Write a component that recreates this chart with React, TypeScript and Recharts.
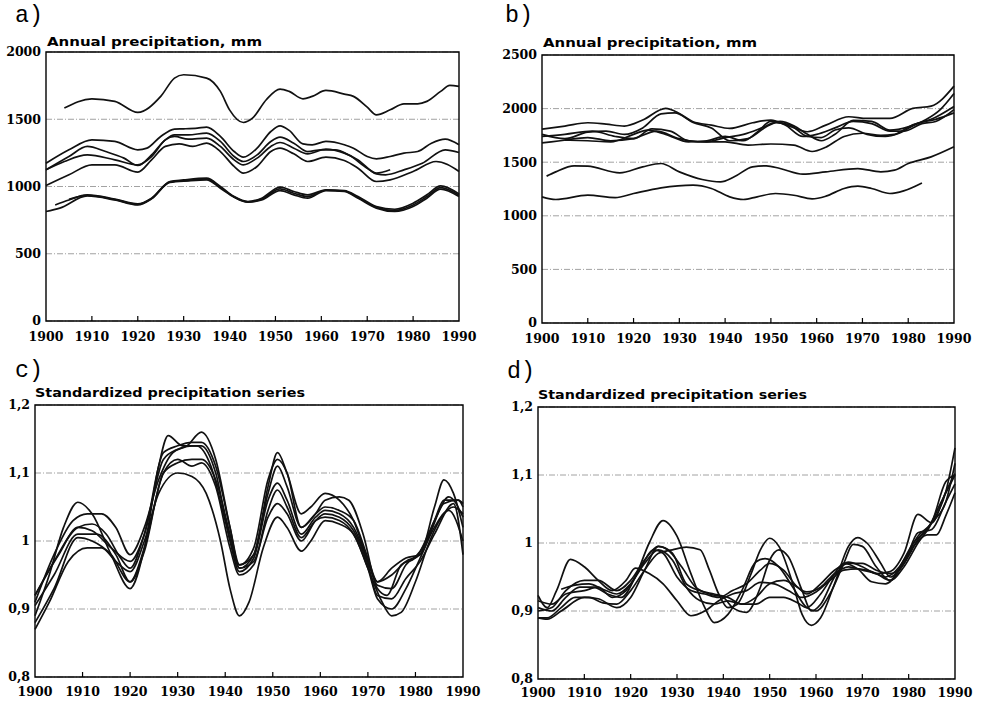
import React from "react";
import { LineChart, Line, XAxis, YAxis, CartesianGrid, ReferenceArea } from "recharts";

// decade ticks shared by every panel
const yearTicks = [1900, 1910, 1920, 1930, 1940, 1950, 1960, 1970, 1980, 1990];
const mmTicksA = [0, 500, 1000, 1500, 2000];
const mmTicksB = [0, 500, 1000, 1500, 2000, 2500];
const stdTicks = [0.8, 0.9, 1.0, 1.1, 1.2];

// a) annual precipitation, mm — [year, value]
const aTop = [[1904, 1583], [1910, 1652], [1915, 1633], [1920, 1551], [1925, 1670], [1928, 1806], [1930, 1831], [1935, 1806], [1938, 1707], [1940, 1570], [1943, 1476], [1945, 1508], [1948, 1645], [1951, 1724], [1953, 1707], [1956, 1652], [1958, 1670], [1961, 1714], [1965, 1687], [1967, 1670], [1970, 1590], [1972, 1533], [1975, 1570], [1978, 1615], [1981, 1615], [1983, 1633], [1986, 1707], [1988, 1752], [1990, 1744]];
const aMid1 = [[1900, 1173], [1905, 1273], [1910, 1347], [1915, 1335], [1920, 1273], [1922, 1285], [1925, 1372], [1928, 1427], [1930, 1429], [1933, 1434], [1935, 1441], [1938, 1372], [1941, 1260], [1943, 1218], [1946, 1285], [1949, 1409], [1951, 1451], [1953, 1417], [1956, 1317], [1958, 1310], [1961, 1335], [1965, 1310], [1967, 1285], [1970, 1223], [1972, 1206], [1975, 1223], [1978, 1248], [1981, 1260], [1984, 1322], [1987, 1352], [1990, 1310]];
const aMid2 = [[1900, 1124], [1905, 1223], [1909, 1298], [1913, 1260], [1917, 1211], [1920, 1156], [1923, 1235], [1926, 1347], [1928, 1384], [1931, 1384], [1935, 1397], [1938, 1335], [1941, 1223], [1943, 1186], [1946, 1235], [1949, 1335], [1951, 1367], [1954, 1322], [1957, 1260], [1960, 1273], [1963, 1273], [1966, 1235], [1970, 1136], [1972, 1099], [1975, 1124]];
const aMid3 = [[1900, 1124], [1904, 1186], [1909, 1235], [1915, 1198], [1920, 1161], [1923, 1223], [1926, 1347], [1928, 1372], [1931, 1352], [1935, 1360], [1938, 1298], [1941, 1198], [1943, 1161], [1946, 1211], [1949, 1298], [1951, 1327], [1954, 1285], [1957, 1243], [1961, 1278], [1965, 1248], [1968, 1198], [1972, 1094], [1974, 1087], [1978, 1124], [1982, 1173], [1987, 1273], [1990, 1253]];
const aMid4 = [[1900, 1007], [1905, 1087], [1910, 1161], [1915, 1161], [1920, 1107], [1923, 1198], [1926, 1298], [1929, 1317], [1932, 1298], [1935, 1322], [1938, 1260], [1941, 1149], [1943, 1099], [1946, 1149], [1949, 1260], [1951, 1285], [1954, 1243], [1957, 1186], [1961, 1218], [1965, 1193], [1968, 1136], [1972, 1037], [1975, 1049], [1980, 1112], [1985, 1186], [1990, 1112]];
const aLow1 = [[1902, 863], [1905, 900], [1909, 938], [1915, 906], [1920, 871], [1923, 913], [1927, 1037], [1930, 1049], [1935, 1062], [1938, 1000], [1941, 925], [1944, 888], [1947, 913], [1951, 995], [1954, 963], [1957, 938], [1961, 975], [1965, 970], [1968, 925], [1972, 851], [1976, 831], [1980, 876], [1983, 938], [1986, 1005], [1990, 945]];
const aLow2 = [[1900, 814], [1903, 839], [1909, 930], [1915, 900], [1920, 863], [1923, 908], [1927, 1030], [1931, 1042], [1935, 1049], [1938, 987], [1941, 920], [1944, 883], [1947, 900], [1951, 970], [1954, 938], [1957, 913], [1961, 970], [1965, 963], [1968, 913], [1972, 839], [1976, 814], [1980, 851], [1983, 913], [1986, 980], [1990, 925]];
const aLow3 = [[1905, 905], [1909, 934], [1915, 903], [1920, 867], [1923, 910], [1927, 1034], [1931, 1046], [1935, 1056], [1938, 994], [1941, 922], [1944, 885], [1947, 906], [1951, 982], [1954, 950], [1957, 925], [1961, 972], [1965, 966], [1968, 919], [1972, 845], [1976, 822], [1980, 863], [1983, 925], [1986, 992], [1990, 935]];

// b) annual precipitation, mm
const bLow = [[1900, 1177], [1903, 1152], [1910, 1192], [1916, 1170], [1920, 1208], [1926, 1261], [1933, 1286], [1937, 1255], [1941, 1177], [1944, 1152], [1947, 1177], [1951, 1208], [1955, 1192], [1959, 1158], [1962, 1183], [1966, 1255], [1969, 1276], [1972, 1255], [1976, 1208], [1979, 1233], [1983, 1307]];
const bMid = [[1901, 1370], [1903, 1410], [1907, 1466], [1910, 1463], [1917, 1401], [1922, 1457], [1926, 1488], [1930, 1410], [1935, 1339], [1939, 1317], [1942, 1364], [1946, 1457], [1949, 1466], [1952, 1441], [1957, 1388], [1962, 1410], [1969, 1441], [1974, 1410], [1977, 1426], [1980, 1488], [1985, 1550], [1990, 1644]];
const bUp1 = [[1900, 1809], [1905, 1837], [1910, 1868], [1914, 1855], [1918, 1837], [1922, 1893], [1927, 2002], [1930, 1955], [1933, 1877], [1937, 1846], [1941, 1815], [1946, 1868], [1950, 1893], [1954, 1837], [1958, 1784], [1962, 1846], [1967, 1924], [1971, 1908], [1976, 1908], [1981, 2002], [1985, 2023], [1990, 2210]];
const bUp2 = [[1900, 1760], [1905, 1720], [1910, 1780], [1914, 1790], [1918, 1760], [1922, 1820], [1926, 1950], [1929, 1960], [1933, 1870], [1937, 1820], [1941, 1700], [1945, 1720], [1949, 1830], [1952, 1880], [1955, 1840], [1958, 1760], [1961, 1700], [1964, 1760], [1968, 1890], [1972, 1880], [1976, 1800], [1980, 1830], [1984, 1900], [1987, 1990], [1990, 2140]];
const bUp3 = [[1900, 1740], [1905, 1760], [1911, 1790], [1916, 1740], [1920, 1720], [1924, 1810], [1928, 1790], [1932, 1700], [1936, 1690], [1940, 1730], [1944, 1760], [1948, 1820], [1951, 1870], [1954, 1850], [1958, 1740], [1961, 1730], [1964, 1800], [1967, 1820], [1971, 1760], [1975, 1740], [1978, 1770], [1982, 1860], [1986, 1900], [1990, 1960]];
const bUp4 = [[1900, 1680], [1904, 1700], [1910, 1730], [1915, 1700], [1920, 1720], [1925, 1790], [1930, 1720], [1934, 1690], [1940, 1690], [1945, 1660], [1950, 1670], [1955, 1660], [1959, 1600], [1962, 1640], [1966, 1740], [1970, 1770], [1974, 1750], [1977, 1760], [1981, 1850], [1985, 1900], [1990, 2020]];
const bUp5 = [[1905, 1706], [1910, 1700], [1915, 1690], [1920, 1760], [1923, 1800], [1927, 1760], [1932, 1690], [1936, 1700], [1940, 1740], [1944, 1700], [1947, 1780], [1950, 1880], [1953, 1850], [1957, 1740], [1960, 1760], [1964, 1820], [1968, 1880], [1972, 1860], [1976, 1790], [1979, 1790], [1983, 1860], [1986, 1880], [1990, 1990]];

// c) standardized series
const c1 = [[1900, 0.87], [1903, 0.91], [1907, 0.97], [1911, 0.99], [1914, 0.99], [1917, 0.97], [1920, 0.955], [1923, 1.0], [1926, 1.07], [1930, 1.1], [1933, 1.095], [1936, 1.07], [1939, 1.0], [1941, 0.93], [1943, 0.89], [1945, 0.91], [1948, 0.99], [1951, 1.035], [1953, 1.02], [1956, 0.985], [1958, 1.0], [1961, 1.03], [1964, 1.025], [1967, 1.01], [1970, 0.96], [1973, 0.91], [1975, 0.89], [1977, 0.895], [1980, 0.94], [1983, 1.0], [1986, 1.04], [1988, 1.05], [1990, 1.04]];
const c2 = [[1900, 0.89], [1903, 0.95], [1906, 1.02], [1909, 1.057], [1912, 1.04], [1916, 0.98], [1920, 0.93], [1923, 0.99], [1926, 1.11], [1928, 1.155], [1931, 1.14], [1934, 1.14], [1937, 1.11], [1940, 1.03], [1943, 0.965], [1946, 0.98], [1949, 1.08], [1951, 1.13], [1953, 1.1], [1956, 1.04], [1958, 1.05], [1961, 1.07], [1964, 1.06], [1967, 1.03], [1970, 0.97], [1972, 0.94], [1975, 0.95], [1978, 0.97], [1981, 0.98], [1984, 1.05], [1986, 1.09], [1988, 1.07], [1990, 1.02]];
const c3 = [[1900, 0.91], [1904, 0.98], [1908, 1.03], [1911, 1.04], [1914, 1.04], [1917, 1.02], [1920, 0.98], [1923, 1.02], [1926, 1.09], [1929, 1.13], [1932, 1.14], [1935, 1.16], [1938, 1.12], [1941, 1.02], [1943, 0.96], [1946, 0.98], [1949, 1.07], [1951, 1.11], [1953, 1.08], [1956, 1.02], [1959, 1.04], [1961, 1.06], [1964, 1.065], [1966, 1.06], [1969, 1.01], [1972, 0.93], [1974, 0.92], [1977, 0.965], [1980, 0.975], [1983, 1.01], [1986, 1.055], [1989, 1.06], [1990, 1.055]];
const c4 = [[1900, 0.92], [1904, 0.97], [1909, 1.02], [1912, 1.025], [1915, 1.01], [1918, 0.975], [1920, 0.96], [1923, 1.01], [1927, 1.12], [1930, 1.135], [1933, 1.14], [1935, 1.14], [1938, 1.1], [1941, 1.0], [1943, 0.955], [1946, 0.975], [1949, 1.06], [1951, 1.085], [1953, 1.06], [1956, 1.01], [1959, 1.035], [1961, 1.045], [1964, 1.04], [1967, 1.02], [1970, 0.97], [1972, 0.935], [1975, 0.93], [1978, 0.965], [1981, 0.985], [1984, 1.03], [1987, 1.065], [1990, 1.035]];
const c5 = [[1900, 0.905], [1904, 0.95], [1909, 1.01], [1913, 1.01], [1917, 0.98], [1920, 0.94], [1923, 0.99], [1927, 1.1], [1930, 1.12], [1933, 1.11], [1935, 1.115], [1938, 1.08], [1941, 0.99], [1943, 0.95], [1946, 0.965], [1949, 1.045], [1951, 1.075], [1953, 1.05], [1956, 1.005], [1959, 1.03], [1961, 1.035], [1964, 1.03], [1967, 1.01], [1970, 0.96], [1972, 0.915], [1975, 0.9], [1978, 0.93], [1981, 0.975], [1984, 1.02], [1987, 1.045], [1990, 1.0]];
const c6 = [[1900, 0.88], [1904, 0.93], [1909, 1.005], [1912, 1.0], [1916, 0.98], [1920, 0.94], [1923, 0.985], [1927, 1.1], [1930, 1.115], [1933, 1.12], [1935, 1.12], [1938, 1.09], [1941, 1.01], [1943, 0.96], [1946, 0.97], [1949, 1.035], [1951, 1.055], [1953, 1.04], [1956, 1.0], [1959, 1.03], [1961, 1.04], [1964, 1.035], [1967, 1.015], [1970, 0.965], [1972, 0.92], [1975, 0.915], [1978, 0.945], [1981, 0.97], [1984, 1.01], [1988, 1.055], [1990, 0.98]];
const c7 = [[1900, 0.92], [1905, 0.98], [1909, 1.02], [1912, 1.015], [1916, 0.99], [1920, 0.97], [1923, 1.01], [1927, 1.13], [1930, 1.14], [1933, 1.145], [1935, 1.145], [1938, 1.11], [1941, 1.02], [1943, 0.965], [1946, 0.99], [1949, 1.09], [1951, 1.12], [1953, 1.1], [1956, 1.02], [1959, 1.04], [1961, 1.05], [1964, 1.045], [1967, 1.03], [1970, 0.975], [1972, 0.94], [1975, 0.96], [1978, 0.975], [1981, 0.98], [1984, 1.03], [1986, 1.06], [1989, 1.06], [1990, 1.05]];

// d) standardized series
const d1 = [[1900, 0.923], [1902, 0.905], [1904, 0.93], [1907, 0.976], [1910, 0.965], [1913, 0.945], [1916, 0.93], [1919, 0.945], [1921, 0.963], [1924, 0.955], [1927, 0.94], [1930, 0.915], [1933, 0.893], [1936, 0.9], [1939, 0.915], [1942, 0.925], [1945, 0.93], [1948, 0.942], [1951, 0.94], [1954, 0.93], [1957, 0.92], [1960, 0.928], [1963, 0.945], [1966, 0.96], [1969, 0.962], [1972, 0.958], [1975, 0.95], [1978, 0.965], [1981, 1.0], [1984, 1.02], [1987, 1.06], [1990, 1.1]];
const d2 = [[1900, 0.905], [1903, 0.9], [1906, 0.92], [1909, 0.935], [1912, 0.935], [1915, 0.925], [1918, 0.92], [1921, 0.95], [1924, 1.0], [1927, 1.033], [1930, 1.01], [1933, 0.955], [1936, 0.905], [1938, 0.883], [1941, 0.895], [1944, 0.93], [1947, 0.972], [1949, 0.977], [1952, 0.965], [1955, 0.935], [1958, 0.905], [1960, 0.9], [1963, 0.925], [1966, 0.97], [1968, 0.998], [1970, 0.995], [1973, 0.965], [1976, 0.945], [1979, 0.975], [1982, 1.01], [1985, 1.03], [1988, 1.075], [1990, 1.14]];
const d3 = [[1900, 0.89], [1902, 0.89], [1905, 0.905], [1908, 0.92], [1911, 0.92], [1914, 0.912], [1917, 0.91], [1920, 0.93], [1923, 0.96], [1926, 0.985], [1929, 0.99], [1932, 0.994], [1935, 0.99], [1937, 0.96], [1939, 0.925], [1941, 0.905], [1943, 0.91], [1946, 0.955], [1948, 0.99], [1950, 1.007], [1952, 0.995], [1955, 0.94], [1957, 0.895], [1959, 0.879], [1961, 0.89], [1964, 0.94], [1967, 0.995], [1969, 1.008], [1971, 1.0], [1974, 0.97], [1976, 0.95], [1979, 0.97], [1982, 1.005], [1985, 1.03], [1988, 1.06], [1990, 1.117]];
const d4 = [[1900, 0.9], [1903, 0.905], [1906, 0.93], [1910, 0.945], [1913, 0.945], [1917, 0.93], [1920, 0.945], [1923, 0.975], [1926, 0.995], [1928, 0.99], [1931, 0.965], [1934, 0.935], [1937, 0.925], [1940, 0.92], [1942, 0.905], [1945, 0.898], [1948, 0.935], [1950, 0.975], [1952, 0.99], [1954, 0.98], [1957, 0.93], [1959, 0.9], [1961, 0.91], [1964, 0.95], [1967, 0.972], [1970, 0.965], [1973, 0.955], [1976, 0.958], [1979, 0.985], [1982, 1.042], [1985, 1.03], [1988, 1.075], [1990, 1.102]];
const d5 = [[1905, 0.932], [1908, 0.938], [1911, 0.94], [1914, 0.932], [1917, 0.925], [1920, 0.94], [1923, 0.97], [1926, 0.99], [1929, 0.975], [1932, 0.935], [1935, 0.915], [1938, 0.91], [1941, 0.915], [1944, 0.91], [1947, 0.92], [1950, 0.94], [1953, 0.945], [1956, 0.935], [1958, 0.925], [1961, 0.94], [1964, 0.96], [1967, 0.97], [1970, 0.97], [1973, 0.96], [1976, 0.955], [1979, 0.97], [1982, 1.015], [1985, 1.02], [1988, 1.06], [1990, 1.087]];
const d6 = [[1900, 0.89], [1902, 0.888], [1905, 0.9], [1910, 0.92], [1913, 0.918], [1917, 0.905], [1920, 0.92], [1923, 0.96], [1926, 0.995], [1929, 0.985], [1932, 0.94], [1935, 0.93], [1938, 0.925], [1941, 0.92], [1944, 0.91], [1947, 0.91], [1950, 0.92], [1953, 0.92], [1956, 0.912], [1958, 0.905], [1961, 0.925], [1964, 0.955], [1966, 0.97], [1969, 0.962], [1972, 0.943], [1975, 0.94], [1978, 0.96], [1981, 0.995], [1984, 1.012], [1986, 1.012], [1988, 1.04], [1990, 1.074]];
const d7 = [[1900, 0.915], [1903, 0.91], [1906, 0.925], [1910, 0.93], [1913, 0.935], [1916, 0.92], [1919, 0.93], [1922, 0.962], [1925, 0.99], [1927, 0.985], [1930, 0.95], [1933, 0.93], [1936, 0.925], [1939, 0.92], [1942, 0.93], [1945, 0.94], [1948, 0.96], [1950, 0.97], [1953, 0.96], [1956, 0.935], [1958, 0.928], [1961, 0.935], [1964, 0.955], [1967, 0.965], [1970, 0.96], [1973, 0.955], [1976, 0.945], [1979, 0.965], [1982, 1.0], [1985, 1.03], [1988, 1.09], [1990, 1.1]];

const tickFont = { fontFamily: "DejaVu Serif", fontWeight: 700, fontSize: 12.5, fill: "#000" };
const toPoints = (rows: number[][]) => rows.map(([year, v]) => ({ year, v }));
const commaFmt = (v: number) => String(Math.round(v * 10) / 10).replace(".", ",");

// inward tick mark on the bottom frame plus the year label below it
const YearTick = ({ x, y, payload, labelDy }: any) => {
  const edge = payload.value === 1900 || payload.value === 1990;
  return (
    <g>
      {!edge && <line x1={x} x2={x} y1={y} y2={y - 5} stroke="#000" strokeWidth={1.2} />}
      <text x={x} y={y + labelDy} textAnchor="middle" style={tickFont}>
        {payload.value}
      </text>
    </g>
  );
};

type PanelProps = {
  left: number;
  top: number;
  width: number;
  height: number;
  margin: { top: number; right: number; left: number; bottom: number };
  yWidth: number;
  xHeight: number;
  labelDy: number;
  yDomain: [number, number];
  yTicks: number[];
  yFmt?: (v: number) => string;
  series: number[][][];
};

function Panel(p: PanelProps) {
  return (
    <div style={{ position: "absolute", left: p.left, top: p.top }}>
      <LineChart width={p.width} height={p.height} margin={p.margin}>
        <CartesianGrid vertical={false} stroke="#8a8a8a" strokeWidth={0.8} strokeDasharray="6 2 1 2" />
        <XAxis
          type="number"
          dataKey="year"
          domain={[1900, 1990]}
          ticks={yearTicks}
          height={p.xHeight}
          axisLine={false}
          tickLine={false}
          tickSize={0}
          tickMargin={0}
          interval={0}
          tick={(props: any) => <YearTick {...props} labelDy={p.labelDy} />}
        />
        <YAxis
          type="number"
          domain={p.yDomain}
          ticks={p.yTicks}
          width={p.yWidth}
          axisLine={false}
          tickLine={false}
          tickSize={0}
          tickMargin={5}
          interval={0}
          tickFormatter={p.yFmt}
          tick={tickFont}
        />
        <ReferenceArea
          x1={1900}
          x2={1990}
          y1={p.yDomain[0]}
          y2={p.yDomain[1]}
          fill="none"
          fillOpacity={0}
          stroke="#000"
          strokeWidth={1.4}
        />
        {p.series.map((s, i) => (
          <Line
            key={i}
            data={toPoints(s)}
            dataKey="v"
            type="monotone"
            stroke="#111"
            strokeWidth={1.7}
            dot={false}
            activeDot={false}
            isAnimationActive={false}
          />
        ))}
      </LineChart>
    </div>
  );
}

const titleStyle = { fontFamily: "DejaVu Sans", fontWeight: 700, fontSize: 13, fill: "#000" };
const letterStyle = { fontFamily: "Liberation Mono", fontSize: 24, fill: "#000" };

export default function App() {
  return (
    <div style={{ position: "absolute", left: 0, top: 0, width: 989, height: 703, background: "#fff" }}>
      <Panel
        left={0} top={0} width={480} height={350}
        margin={{ top: 52, right: 21, left: 0, bottom: 0 }}
        yWidth={46} xHeight={29} labelDy={20}
        yDomain={[0, 2000]} yTicks={mmTicksA}
        series={[aTop, aMid1, aMid2, aMid3, aMid4, aLow1, aLow2, aLow3]}
      />
      <Panel
        left={490} top={0} width={490} height={350}
        margin={{ top: 55, right: 26, left: 0, bottom: 0 }}
        yWidth={52} xHeight={27} labelDy={20}
        yDomain={[0, 2500]} yTicks={mmTicksB}
        series={[bLow, bMid, bUp1, bUp2, bUp3, bUp4, bUp5]}
      />
      <Panel
        left={0} top={350} width={490} height={353}
        margin={{ top: 55, right: 27, left: 0, bottom: 0 }}
        yWidth={35} xHeight={26} labelDy={19}
        yDomain={[0.8, 1.2]} yTicks={stdTicks} yFmt={commaFmt}
        series={[c1, c2, c3, c4, c5, c6, c7]}
      />
      <Panel
        left={490} top={350} width={499} height={353}
        margin={{ top: 57, right: 34, left: 0, bottom: 0 }}
        yWidth={48} xHeight={24} labelDy={18}
        yDomain={[0.8, 1.2]} yTicks={stdTicks} yFmt={commaFmt}
        series={[d1, d2, d3, d4, d5, d6, d7]}
      />
      <svg width={989} height={703} style={{ position: "absolute", left: 0, top: 0, pointerEvents: "none" }}>
        <text x={15} y={22} style={letterStyle} textLength={28} lengthAdjust="spacingAndGlyphs">a)</text>
        <text x={505} y={22} style={letterStyle} textLength={28} lengthAdjust="spacingAndGlyphs">b)</text>
        <text x={15} y={377} style={letterStyle} textLength={28} lengthAdjust="spacingAndGlyphs">c)</text>
        <text x={507} y={378} style={letterStyle} textLength={28} lengthAdjust="spacingAndGlyphs">d)</text>
        <text x={47} y={46} style={titleStyle} textLength={215} lengthAdjust="spacingAndGlyphs">Annual precipitation, mm</text>
        <text x={543} y={47} style={titleStyle} textLength={214} lengthAdjust="spacingAndGlyphs">Annual precipitation, mm</text>
        <text x={35} y={397} style={titleStyle} textLength={270} lengthAdjust="spacingAndGlyphs">Standardized precipitation series</text>
        <text x={538} y={399} style={titleStyle} textLength={269} lengthAdjust="spacingAndGlyphs">Standardized precipitation series</text>
      </svg>
    </div>
  );
}
